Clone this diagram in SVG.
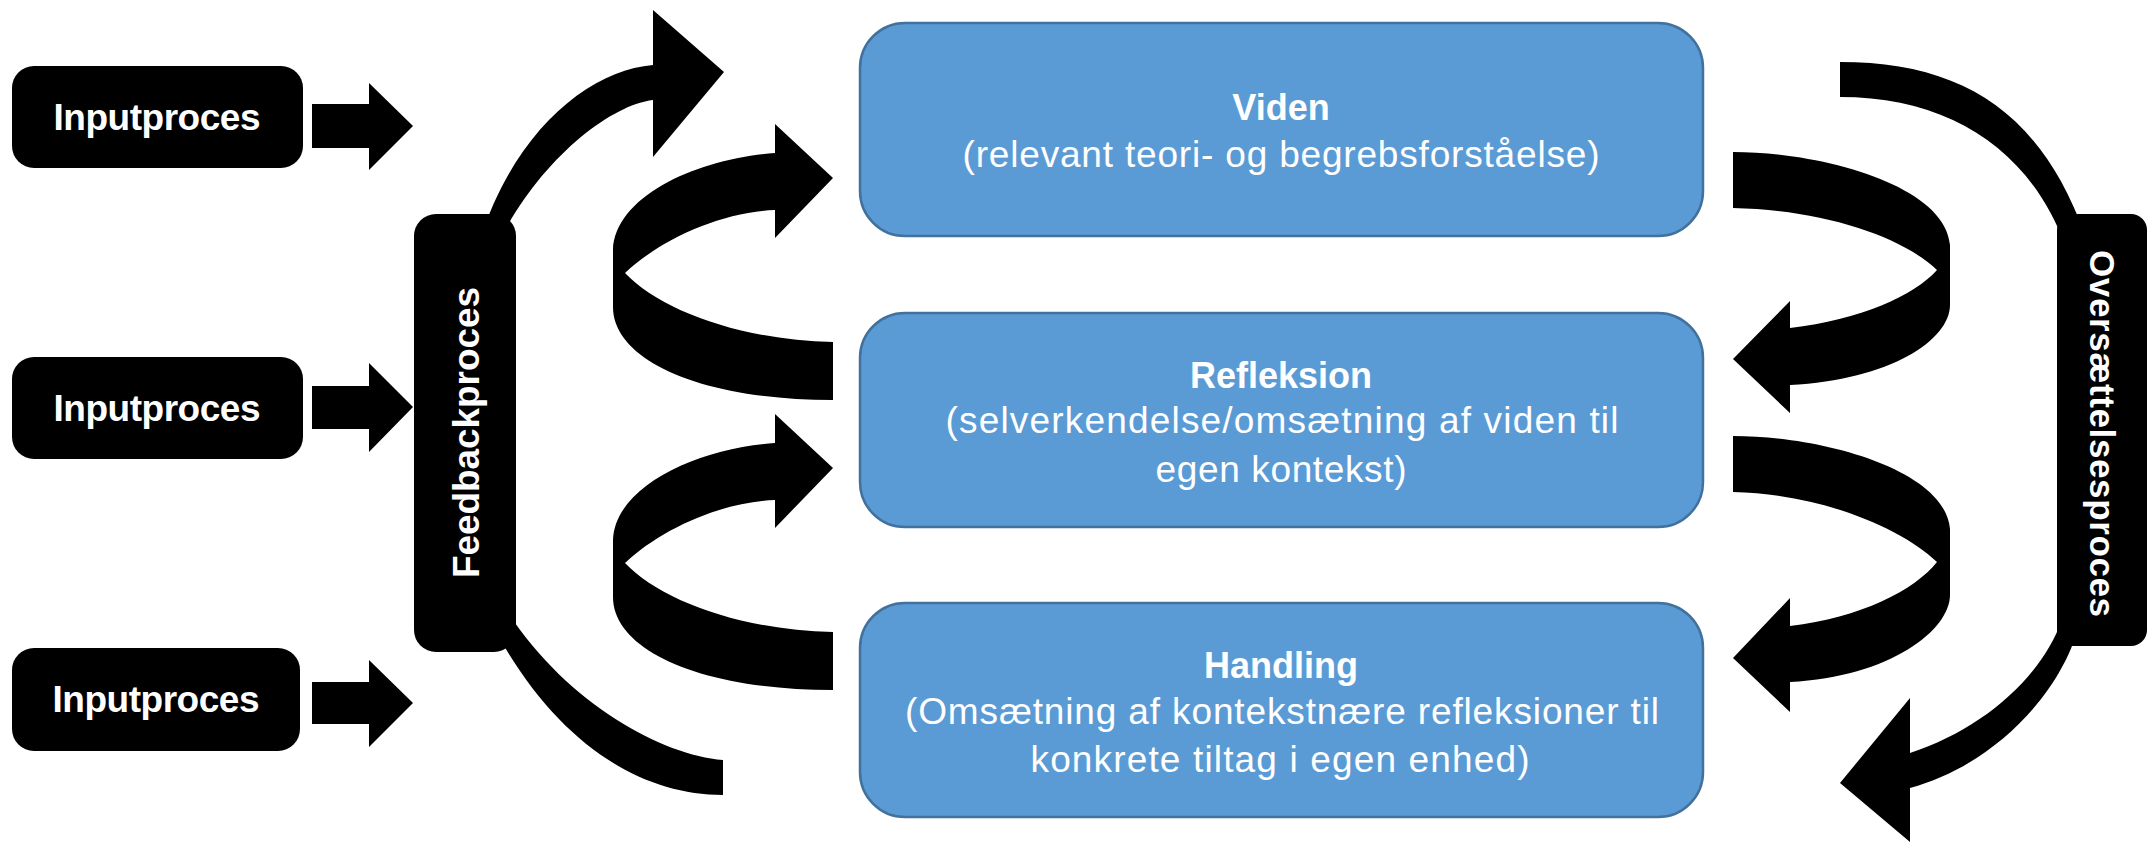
<svg xmlns="http://www.w3.org/2000/svg" width="2149" height="843" viewBox="0 0 2149 843">
<style>
.blk{fill:#000000}
.box{fill:#5B9BD5;stroke:#41719C;stroke-width:2.5}
.t{font-family:"Liberation Sans",Arial,sans-serif;fill:#ffffff;text-anchor:middle}
.h{font-size:36px;font-weight:bold}
.b{font-size:37px}
.in{font-size:37px;font-weight:bold}
.v{font-size:37px;font-weight:bold}
</style>
<rect width="2149" height="843" fill="#ffffff"/>
<g id="connectors" class="blk">
  <!-- input arrows -->
  <path d="M312,104 L369,104 L369,83 L413,126 L369,170 L369,148 L312,148 Z"/>
  <path d="M312,386 L369,386 L369,363 L413,407 L369,452 L369,429 L312,429 Z"/>
  <path d="M312,682 L369,682 L369,660 L413,703 L369,747 L369,724 L312,724 Z"/>
  <!-- feedback top arrow -->
  <path d="M653,65 C590,70 515,130 480,240 L500,240 C540,160 610,105 653,100 L653,157 L724,72 L653,10 Z"/>
  <!-- feedback bottom curve -->
  <path d="M723,795 C630,795 540,730 480,600 L500,600 C560,700 660,755 723,760 Z"/>
  <!-- left C arrows -->
  <path d="M775,153 C700,158 615,195 613,250 L613,307 C613,360 700,400 833,400 L833,342 C740,340 660,310 625,273 C660,240 720,212 775,210 L775,238 L833,178 L775,124 Z"/>
  <path transform="translate(0,290)" d="M775,153 C700,158 615,195 613,250 L613,307 C613,360 700,400 833,400 L833,342 C740,340 660,310 625,273 C660,240 720,212 775,210 L775,238 L833,178 L775,124 Z"/>
  <!-- right C arrows -->
  <path d="M1733,152 C1820,152 1945,185 1950,245 L1950,305 C1950,340 1890,380 1790,385 L1790,413 L1733,359 L1790,301 L1790,328 C1860,320 1915,295 1937,270 C1900,235 1820,210 1733,208 Z"/>
  <path d="M1733,436 C1820,436 1945,469 1950,529 L1950,595 C1950,630 1890,677 1790,682 L1790,712 L1733,658 L1790,598 L1790,626 C1860,618 1915,590 1937,562 C1900,527 1820,494 1733,492 Z"/>
  <!-- translation process curves -->
  <path d="M1840,62 C1960,62 2040,110 2085,235 L2065,245 C2030,150 1950,97 1840,97 Z"/>
  <path d="M2080,620 C2065,690 1995,765 1910,788 L1910,842 L1840,783 L1910,698 L1910,753 C1980,730 2040,680 2062,620 Z"/>
</g>
<g id="input1">
  <rect x="12" y="66" width="291" height="102" rx="22" class="blk"/>
  <text x="157" y="130" class="t in" textLength="207">Inputproces</text>
</g>
<g id="input2">
  <rect x="12" y="357" width="291" height="102" rx="22" class="blk"/>
  <text x="157" y="421" class="t in" textLength="207">Inputproces</text>
</g>
<g id="input3">
  <rect x="12" y="648" width="288" height="103" rx="22" class="blk"/>
  <text x="156" y="712" class="t in" textLength="207">Inputproces</text>
</g>
<g id="feedback">
  <rect x="414" y="214" width="102" height="438" rx="22" class="blk"/>
  <text transform="translate(479,432.5) rotate(-90)" x="0" y="0" class="t v" textLength="291">Feedbackproces</text>
</g>
<g id="oversaettelse">
  <rect x="2057" y="214" width="90" height="432" rx="16" class="blk"/>
  <text transform="translate(2090,433.5) rotate(90)" x="0" y="0" class="t" style="font-size:35px;font-weight:bold" textLength="367">Oversættelsesproces</text>
</g>
<g id="viden">
  <rect x="860" y="23" width="843" height="213" rx="45" class="box"/>
  <text x="1281" y="120" class="t h">Viden</text>
  <text x="1281" y="167" class="t b" textLength="637">(relevant teori- og begrebsforståelse)</text>
</g>
<g id="refleksion">
  <rect x="860" y="313" width="843" height="214" rx="45" class="box"/>
  <text x="1281" y="388" class="t h">Refleksion</text>
  <text x="1282" y="433" class="t b" textLength="673">(selverkendelse/omsætning af viden til</text>
  <text x="1281" y="482" class="t b" textLength="251">egen kontekst)</text>
</g>
<g id="handling">
  <rect x="860" y="603" width="843" height="214" rx="45" class="box"/>
  <text x="1281" y="678" class="t h">Handling</text>
  <text x="1282" y="724" class="t b" textLength="754">(Omsætning af kontekstnære refleksioner til</text>
  <text x="1280" y="772" class="t b" textLength="499">konkrete tiltag i egen enhed)</text>
</g>
</svg>
